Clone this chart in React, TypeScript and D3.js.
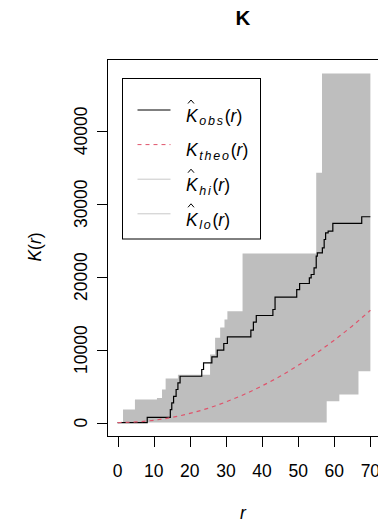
import { area, curveMonotoneX, curveStepAfter, line, max, scaleLinear } from "d3";

const WIDTH = 378;
const HEIGHT = 522;
const FONT = "'Liberation Sans', Arial, sans-serif";

// observed K (step function), r where each step starts
const R_OBS = [0, 8.2, 14.6, 15.0, 15.5, 16.2, 16.7, 17.3, 23.3, 23.8, 26.1, 27.6, 29.4, 30.4, 36.9, 37.6, 38.4, 43.0, 43.6, 49.6, 50.4, 53.1, 53.6, 54.4, 55.0, 55.3, 56.7, 57.2, 57.6, 58.3, 59.6, 67.6];
const K_OBS = [0, 700, 1780, 2700, 3600, 4530, 5440, 6350, 7270, 8190, 9010, 9920, 10840, 11760, 12660, 13760, 14680, 15500, 17190, 18240, 19070, 19850, 20300, 21220, 22810, 23280, 23960, 25100, 26020, 26240, 27300, 28220];

// upper envelope
const R_HI = [0, 1.5, 4.8, 10.9, 12.3, 13.3, 16.7, 25.6, 27.0, 28.4, 29.6, 30.4, 34.6, 55.0, 56.6];
const K_HI = [0, 1780, 3150, 3380, 4530, 6040, 6540, 9330, 11620, 13030, 14130, 15270, 23180, 34250, 47870];

// lower envelope
const R_LO = [0, 57.9, 61.4, 66.7];
const K_LO = [0, 2920, 3840, 7040];

// theoretical K
const R_THEO = [0, 5, 10, 15, 20, 25, 30, 35, 40, 45, 50, 55, 60, 65, 70];
const K_THEO = [0, 80, 310, 700, 1250, 1950, 2830, 3850, 5030, 6350, 7850, 9500, 11300, 13250, 15400];

const R_END = 70;
const X_TICKS = [0, 10, 20, 30, 40, 50, 60, 70];
const Y_TICKS = [0, 10000, 20000, 30000, 40000];

const LEGEND_SUBS = ["obs", "theo", "hi", "lo"];
const LEGEND_HAT = [true, false, true, true];
const LEGEND_COLORS = ["#000000", "#DF536B", "#c8c8c8", "#c8c8c8"];

function stepAt(rs: number[], ks: number[], r: number) {
  let v = ks[0];
  for (let i = 0; i < rs.length; i++) if (rs[i] <= r) v = ks[i];
  return v;
}

export default function App() {
  const yTop = max(K_HI) ?? 1;
  const x = scaleLinear().domain([-0.04 * R_END, 1.04 * R_END]).range([107.5, 380.5]);
  const y = scaleLinear().domain([-0.04 * yTop, 1.04 * yTop]).range([436.5, 59.5]);

  const rs = Array.from(new Set([...R_HI, ...R_LO, R_END])).sort((a, b) => a - b);
  const band = rs.map((r) => ({ r, hi: stepAt(R_HI, K_HI, r), lo: stepAt(R_LO, K_LO, r) }));
  const bandPath = area<{ r: number; hi: number; lo: number }>()
    .x((d) => x(d.r))
    .y0((d) => y(d.lo))
    .y1((d) => y(d.hi))
    .curve(curveStepAfter)(band);

  const obs: [number, number][] = R_OBS.map((r, i) => [r, K_OBS[i]]);
  obs.push([R_END, K_OBS[K_OBS.length - 1]]);
  const obsPath = line<[number, number]>()
    .x((d) => x(d[0]))
    .y((d) => y(d[1]))
    .curve(curveStepAfter)(obs);

  const theoPath = line<number>()
    .x((_, i) => x(R_THEO[i]))
    .y((d) => y(d))
    .curve(curveMonotoneX)(K_THEO);

  const x0 = 107.5;
  const yb = 436.5;

  return (
    <svg width={WIDTH} height={HEIGHT} style={{ position: "absolute", left: 0, top: 0, display: "block", background: "#fff" }} fontFamily={FONT}>
      <rect width={WIDTH} height={HEIGHT} fill="#fff" />
      <text x={243} y={25} textAnchor="middle" fontWeight="bold" fontSize={20.5}>K</text>

      {bandPath ? <path d={bandPath} fill="#bebebe" stroke="none" /> : null}
      {obsPath ? <path d={obsPath} fill="none" stroke="#000" strokeWidth={1.2} /> : null}
      {theoPath ? <path d={theoPath} fill="none" stroke="#DF536B" strokeWidth={1.2} strokeDasharray="4 4" /> : null}

      <rect x={x0} y={59.5} width={380.5 - x0} height={yb - 59.5} fill="none" stroke="#000" strokeWidth={1} />

      {/* x axis */}
      <line x1={x(0)} x2={x(R_END)} y1={yb} y2={yb} stroke="#000" />
      {X_TICKS.map((t) => (
        <g key={t}>
          <line x1={Math.round(x(t)) + 0.5} x2={Math.round(x(t)) + 0.5} y1={yb} y2={yb + 10.5} stroke="#000" />
          <text x={x(t)} y={476.5} textAnchor="middle" fontSize={17.5}>{t}</text>
        </g>
      ))}
      <text x={243} y={519} textAnchor="middle" fontSize={17.5} fontStyle="italic">r</text>

      {/* y axis */}
      <line x1={x0} x2={x0} y1={y(0)} y2={y(40000)} stroke="#000" />
      {Y_TICKS.map((t) => (
        <g key={t}>
          <line x1={x0 - 10.5} x2={x0} y1={Math.round(y(t)) + 0.5} y2={Math.round(y(t)) + 0.5} stroke="#000" />
          <text transform={`translate(86.5,${y(t)}) rotate(-90)`} textAnchor="middle" fontSize={17.5}>{t}</text>
        </g>
      ))}
      <text transform="translate(41,247) rotate(-90)" textAnchor="middle" fontSize={17.5}>
        <tspan fontStyle="italic">K</tspan>(<tspan fontStyle="italic">r</tspan>)
      </text>

      {/* legend */}
      <rect x={122.5} y={78.5} width={138} height={160.5} fill="#fff" stroke="#000" strokeWidth={1} />
      {LEGEND_SUBS.map((sub, i) => {
        const ly = 110 + i * 34.6;
        return (
          <g key={sub}>
            <line x1={137.5} x2={170.5} y1={ly} y2={ly} stroke={LEGEND_COLORS[i]} strokeWidth={1} strokeDasharray={i === 1 ? "4 4" : undefined} />
            {LEGEND_HAT[i] ? <path d={`M${188} ${ly - 6.5} L${191} ${ly - 10} L${194} ${ly - 6.5}`} fill="none" stroke="#000" strokeWidth={1} /> : null}
            <text x={186} y={ly + 11.8} fontSize={17.5}>
              <tspan fontStyle="italic">K</tspan>
              <tspan dx={1.5} dy={3.5} fontSize={12.5} letterSpacing={1.8} fontStyle="italic">{sub}</tspan>
              <tspan dy={-3.5}>(</tspan>
              <tspan fontStyle="italic">r</tspan>
              <tspan>)</tspan>
            </text>
          </g>
        );
      })}
    </svg>
  );
}
